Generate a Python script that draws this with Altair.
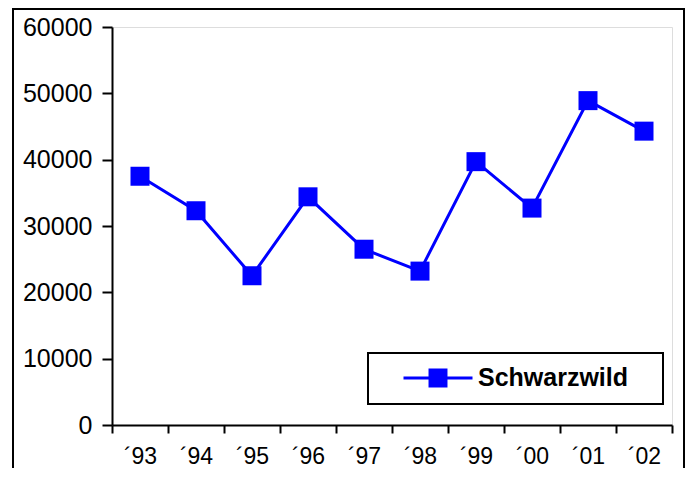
import altair as alt
import pandas as pd

years = ["´93", "´94", "´95", "´96", "´97", "´98", "´99", "´00", "´01", "´02"]
values = [37500, 32300, 22500, 34400, 26500, 23200, 39700, 32700, 48900, 44300]
series = ["Schwarzwild"] * len(years)

df = pd.DataFrame({"year": years, "value": values, "series": series})

FONT = "Liberation Sans"
BLUE = "#0000FF"

x_enc = alt.X(
    "year:N",
    sort=years,
    scale=alt.Scale(paddingInner=0, paddingOuter=0),
    axis=alt.Axis(
        title=None, labelAngle=0, tickBand="extent", tickSize=8, tickWidth=2,
        tickColor="black", domainColor="black", domainWidth=2,
        labelFontSize=23, labelFont=FONT, labelColor="black", labelPadding=12,
    ),
)
y_enc = alt.Y(
    "value:Q",
    scale=alt.Scale(domain=[0, 60000], nice=False),
    axis=alt.Axis(
        title=None, values=[0, 10000, 20000, 30000, 40000, 50000, 60000],
        format="d", grid=False, tickSize=10, tickWidth=2, tickColor="black",
        domainColor="black", domainWidth=2, labelFontSize=25, labelFont=FONT,
        labelColor="black", labelPadding=10,
    ),
)

line = alt.Chart(df).mark_line(color=BLUE, strokeWidth=3).encode(x=x_enc, y=y_enc)

# legend symbol: line with a square marker (path units scaled by sqrt(symbolSize)/2 = 12px)
legend_symbol = "M-2.875,-0.125H2.875V0.125H-2.875Z M-0.79,-0.79H0.79V0.79H-0.79Z"

points = alt.Chart(df).mark_point(shape="square", filled=True, size=361, opacity=1).encode(
    x=x_enc,
    y=y_enc,
    color=alt.Color(
        "series:N",
        scale=alt.Scale(range=[BLUE]),
        legend=alt.Legend(
            title="\u00a0", titleOrient="right", titleFontSize=4, titlePadding=22,
            orient="none", legendX=256, legendY=326,
            symbolType=legend_symbol, symbolSize=576, symbolStrokeWidth=0,
            symbolOffset=45, labelOffset=27.5, labelLimit=0,
            labelFontSize=25, labelFont=FONT, labelFontWeight="bold", labelColor="black",
            padding=12.5, strokeColor="black", fillColor="white",
        ),
    ),
)

frame_df = pd.DataFrame({"k": [0]})
frame = alt.Chart(frame_df).mark_rect(fill=None, stroke="black", strokeWidth=2).encode(
    x=alt.value(-99), x2=alt.value(572), y=alt.value(-18), y2=alt.value(600)
)

base = alt.layer(frame, line, points).properties(
    width=560, height=398,
    autosize=alt.AutoSizeParams(type="none"),
    padding={"left": 104, "top": 19, "right": 13, "bottom": 43},
)

try:
    chart = base.configure_view(stroke="#808080", strokeWidth=2).configure(
        background="white"
    ).configure_legend(strokeWidth=2)
    chart.to_dict()
except Exception:
    chart = base.configure_view(stroke="#808080", strokeWidth=2).configure(background="white")

chart.save("out.html", embed_options={"renderer": "svg", "actions": False})
